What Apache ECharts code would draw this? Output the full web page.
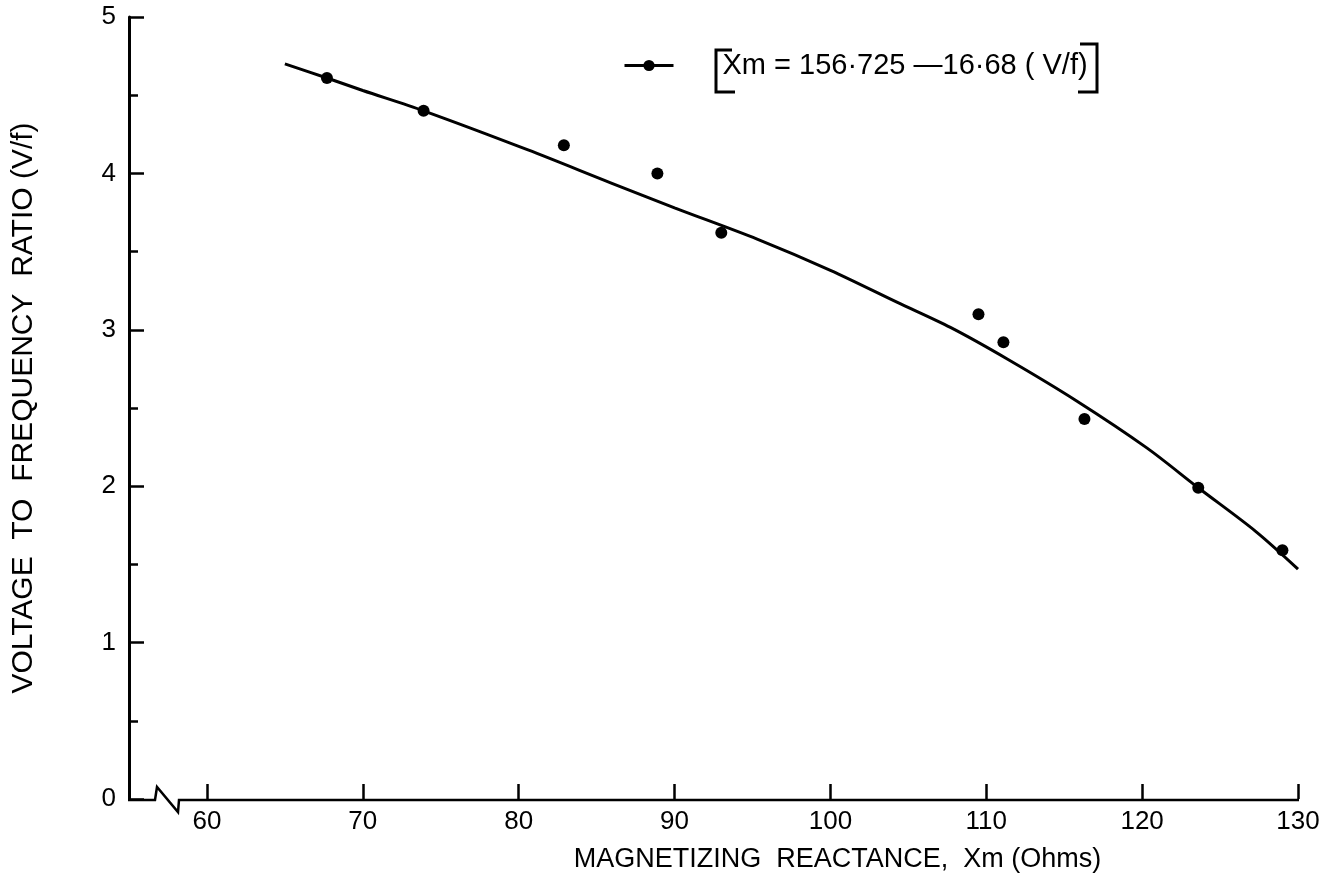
<!DOCTYPE html>
<html>
<head>
<meta charset="utf-8">
<script src="https://cdn.jsdelivr.net/npm/echarts@6/dist/echarts.min.js"></script>
<style>
  html, body { margin: 0; padding: 0; background: #fff; }
  #chart { width: 1342px; height: 885px; }
</style>
</head>
<body>
<div id="chart"></div>
<script>
// Measured magnetizing reactance (Ohms) and V/f ratio
const xmMeasured = [67.7, 73.9, 82.9, 88.9, 93.0, 109.5, 111.1, 116.3, 123.6, 129.0];
const vfMeasured = [4.61, 4.40, 4.18, 4.00, 3.62, 3.10, 2.92, 2.43, 1.99, 1.59];

// Fitted curve through the measurements
const xmFit = [65, 67.7, 70, 73.9, 80.6, 85.9, 90, 95.3, 100, 104.3, 107.7, 111.4, 115.8, 120.3, 123.6, 127.3, 130];
const vfFit = [4.70, 4.61, 4.53, 4.40, 4.15, 3.94, 3.78, 3.58, 3.38, 3.175, 3.015, 2.81, 2.545, 2.245, 1.99, 1.71, 1.47];

// Axis tick values
const xTicks = [60, 70, 80, 90, 100, 110, 120, 130];

const fitName = 'Xm = 156·725 —16·68 ( V/f)';
const xName = 'MAGNETIZING  REACTANCE,  Xm (Ohms)';
const yName = 'VOLTAGE  TO  FREQUENCY  RATIO (V/f)';

const FONT = '"Liberation Sans", Arial, sans-serif';
const INK = '#000';

const chart = echarts.init(document.getElementById('chart'), null, { renderer: 'canvas' });

chart.setOption({
  backgroundColor: '#fff',
  animation: false,
  grid: { left: 129, right: 44, top: 17, bottom: 86 },
  legend: {
    left: 618,
    top: 46,
    itemWidth: 49,
    itemHeight: 14,
    data: [fitName],
    lineStyle: { width: 3, color: INK },
    itemStyle: { color: INK },
    formatter: name => '{t|' + name + '}',
    textStyle: {
      rich: {
        t: { fontFamily: FONT, fontSize: 29, color: INK, padding: [0, 0, 0, 44], lineHeight: 29 }
      }
    }
  },
  xAxis: {
    type: 'value',
    min: 55,
    max: 130,
    name: xName,
    nameLocation: 'middle',
    nameGap: 47,
    nameTextStyle: { fontFamily: FONT, fontSize: 27, color: INK, padding: [0, 0, 0, 248] },
    axisLine: { show: false },
    axisTick: {
      show: true, inside: true, length: 15,
      customValues: xTicks,
      lineStyle: { color: INK, width: 2.5 }
    },
    axisLabel: {
      customValues: xTicks,
      margin: 10,
      fontFamily: FONT, fontSize: 26, color: INK
    },
    splitLine: { show: false }
  },
  yAxis: {
    type: 'value',
    min: 0,
    max: 5,
    interval: 1,
    name: yName,
    nameLocation: 'middle',
    nameGap: 90,
    nameTextStyle: { fontFamily: FONT, fontSize: 30, color: INK },
    axisLine: { show: true, lineStyle: { color: INK, width: 3 } },
    axisTick: { show: true, inside: true, length: 15, lineStyle: { color: INK, width: 2.5 } },
    minorTick: { show: true, splitNumber: 2, length: 9, lineStyle: { color: INK, width: 2.5 } },
    axisLabel: { margin: 13, fontFamily: FONT, fontSize: 26, color: INK },
    splitLine: { show: false },
    minorSplitLine: { show: false }
  },
  series: [
    {
      name: fitName,
      type: 'line',
      smooth: 0.3,
      showSymbol: false,
      symbol: 'circle',
      symbolSize: 11,
      itemStyle: { color: INK },
      lineStyle: { color: INK, width: 3 },
      data: xmFit.map((x, i) => [x, vfFit[i]]),
      z: 2
    },
    {
      name: 'measured',
      type: 'scatter',
      symbol: 'circle',
      symbolSize: 12,
      itemStyle: { color: INK, opacity: 1 },
      data: xmMeasured.map((x, i) => [x, vfMeasured[i]]),
      z: 3
    }
  ]
});

// X axis line with a break mark near the origin
const origin = chart.convertToPixel({ gridIndex: 0 }, [55, 0]);
const xEnd = chart.convertToPixel({ gridIndex: 0 }, [130, 0]);
const ay = origin[1] + 1;
const ox = origin[0];
chart.setOption({
  graphic: [
    {
      type: 'polyline',
      shape: {
        points: [
          [ox - 1, ay], [ox + 26, ay], [ox + 28, ay - 13],
          [ox + 49, ay + 12], [ox + 50, ay], [xEnd[0] + 1, ay]
        ]
      },
      style: { stroke: INK, lineWidth: 2.5, fill: null, lineJoin: 'miter' },
      silent: true
    },
    // brackets around the fit equation
    {
      type: 'polyline',
      shape: { points: [[732, 50], [716, 50], [716, 92], [735, 92]] },
      style: { stroke: INK, lineWidth: 3, fill: null },
      silent: true
    },
    {
      type: 'polyline',
      shape: { points: [[1080, 44], [1097, 44], [1097, 92], [1078, 92]] },
      style: { stroke: INK, lineWidth: 3, fill: null },
      silent: true
    }
  ]
});
</script>
</body>
</html>
